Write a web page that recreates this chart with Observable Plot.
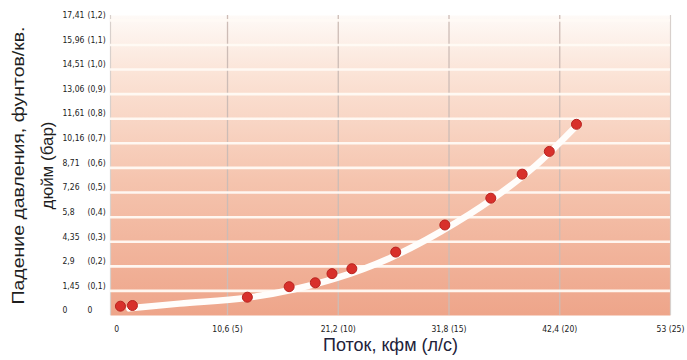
<!DOCTYPE html>
<html>
<head>
<meta charset="utf-8">
<script src="https://cdn.jsdelivr.net/npm/d3@7"></script>
<script src="https://cdn.jsdelivr.net/npm/@observablehq/plot@0.6"></script>
<style>
  body { margin: 0; background: #fff; }
  #chart svg { display: block; }
</style>
</head>
<body>
<div id="chart"></div>
<script>
// Measured points (flow in cfm, pressure drop in psi)
const flowCfm = [0.35, 1.5, 12.5, 16.5, 19.0, 20.6, 22.5, 26.7, 31.4, 35.8, 38.8, 41.4, 44.0];
const dropPsi = [0.55, 0.59, 1.08, 1.70, 1.93, 2.47, 2.76, 3.74, 5.34, 6.92, 8.34, 9.68, 11.28];

// Trend curve
const curveCfm = [1.2, 6, 12.5, 17, 21, 26, 31, 36, 40, 44];
const curvePsi = [0.42, 0.7, 1.05, 1.55, 2.2, 3.35, 4.95, 6.9, 8.8, 11.2];

// Tick values and labels
const xTicks = [0, 10.6, 21.2, 31.8, 42.4, 53];
const xTickLabels = ["0", "10,6 (5)", "21,2 (10)", "31,8 (15)", "42,4 (20)", "53 (25)"];
const yTicks = [0, 1.45, 2.9, 4.35, 5.8, 7.26, 8.71, 10.16, 11.61, 13.06, 14.51, 15.96, 17.41];
const yTickPsi = ["0", "1,45", "2,9", "4,35", "5,8", "7,26", "8,71", "10,16", "11,61", "13,06", "14,51", "15,96", "17,41"];
const yTickBar = ["0", "(0,1)", "(0,2)", "(0,3)", "(0,4)", "(0,5)", "(0,6)", "(0,7)", "(0,8)", "(0,9)", "(1,0)", "(1,1)", "(1,2)"];

const yTitle1 = "Падение давления, фунтов/кв.";
const yTitle2 = "дюйм (бар)";
const xTitle = "Поток, кфм (л/с)";

const points = flowCfm.map((x, i) => ({x, y: dropPsi[i]}));
const curve = curveCfm.map((x, i) => ({x, y: curvePsi[i]}));
const xT = xTicks.map((v, i) => ({v, label: xTickLabels[i]}));
const yT = yTicks.map((v, i) => ({v, psi: yTickPsi[i], bar: yTickBar[i]}));

const narrow = "'DejaVu Sans Condensed', 'Liberation Sans Narrow', sans-serif";
const sans = "'Liberation Sans', Arial, sans-serif";

const chart = Plot.plot({
  width: 687,
  height: 360,
  marginLeft: 110,
  marginRight: 17,
  marginTop: 15,
  marginBottom: 45,
  x: {domain: [-0.6, 53], axis: null},
  y: {domain: [0, 17.7], axis: null},
  style: {background: "#fff", overflow: "visible"},
  marks: [
    Plot.frame({fill: "url(#bgGrad)", stroke: "none"}),
    Plot.ruleX(xTicks.slice(1, 5), {stroke: "#cdbcb6", strokeWidth: 1.3}),
    Plot.ruleX([-0.6, 53], {stroke: "#d8d0cc", strokeWidth: 1.2}),
    Plot.ruleY(yTicks.slice(1), {stroke: "#fffaf4", strokeWidth: 2.6, strokeOpacity: 0.95}),
    Plot.line(curve, {x: "x", y: "y", curve: "monotone-x", stroke: "#fffdfb", strokeWidth: 6.5, strokeLinecap: "round"}),
    Plot.dot(points, {x: "x", y: "y", r: 5, fill: "#d8302b", stroke: "#b8231f", strokeWidth: 1}),
    // y tick labels (two columns)
    Plot.text(yT, {y: "v", text: "psi", frameAnchor: "left", dx: -48, dy: -5, textAnchor: "start",
      fontFamily: narrow, fontSize: 8.5, fill: "#222"}),
    Plot.text(yT, {y: "v", text: "bar", frameAnchor: "left", dx: -23, dy: -5, textAnchor: "start",
      fontFamily: narrow, fontSize: 8.5, fill: "#222"}),
    // x tick labels
    Plot.text(xT, {x: "v", text: "label", frameAnchor: "bottom", dy: 16, textAnchor: "middle",
      fontFamily: narrow, fontSize: 8.5, fill: "#222"}),
    // axis titles
    Plot.text([yTitle1], {frameAnchor: "left", dx: -92, rotate: -90, textAnchor: "middle",
      fontFamily: sans, fontSize: 17, fill: "#1e1e1e"}),
    Plot.text([yTitle2], {frameAnchor: "left", dx: -63, rotate: -90, textAnchor: "middle",
      fontFamily: sans, fontSize: 17, fill: "#1e1e1e"}),
    Plot.text([xTitle], {frameAnchor: "bottom", dy: 35, textAnchor: "middle",
      fontFamily: sans, fontSize: 18, fill: "#22223a"})
  ]
});

const svg = d3.select(chart);
const defs = svg.insert("defs", ":first-child");
const grad = defs.append("linearGradient")
  .attr("id", "bgGrad").attr("x1", 0).attr("y1", 0).attr("x2", 0).attr("y2", 1);
grad.append("stop").attr("offset", "0%").attr("stop-color", "#fefaf7");
grad.append("stop").attr("offset", "20%").attr("stop-color", "#fbe3d6");
grad.append("stop").attr("offset", "55%").attr("stop-color", "#f5c4ae");
grad.append("stop").attr("offset", "100%").attr("stop-color", "#eea58a");

// fit the long rotated title into the height the reference gives it
svg.selectAll("text").filter(function () { return this.textContent === yTitle1; })
  .attr("textLength", 278).attr("lengthAdjust", "spacingAndGlyphs");
svg.selectAll("text").filter(function () { return this.textContent === yTitle2; })
  .attr("textLength", 88).attr("lengthAdjust", "spacingAndGlyphs");

document.getElementById("chart").appendChild(chart);
</script>
</body>
</html>
